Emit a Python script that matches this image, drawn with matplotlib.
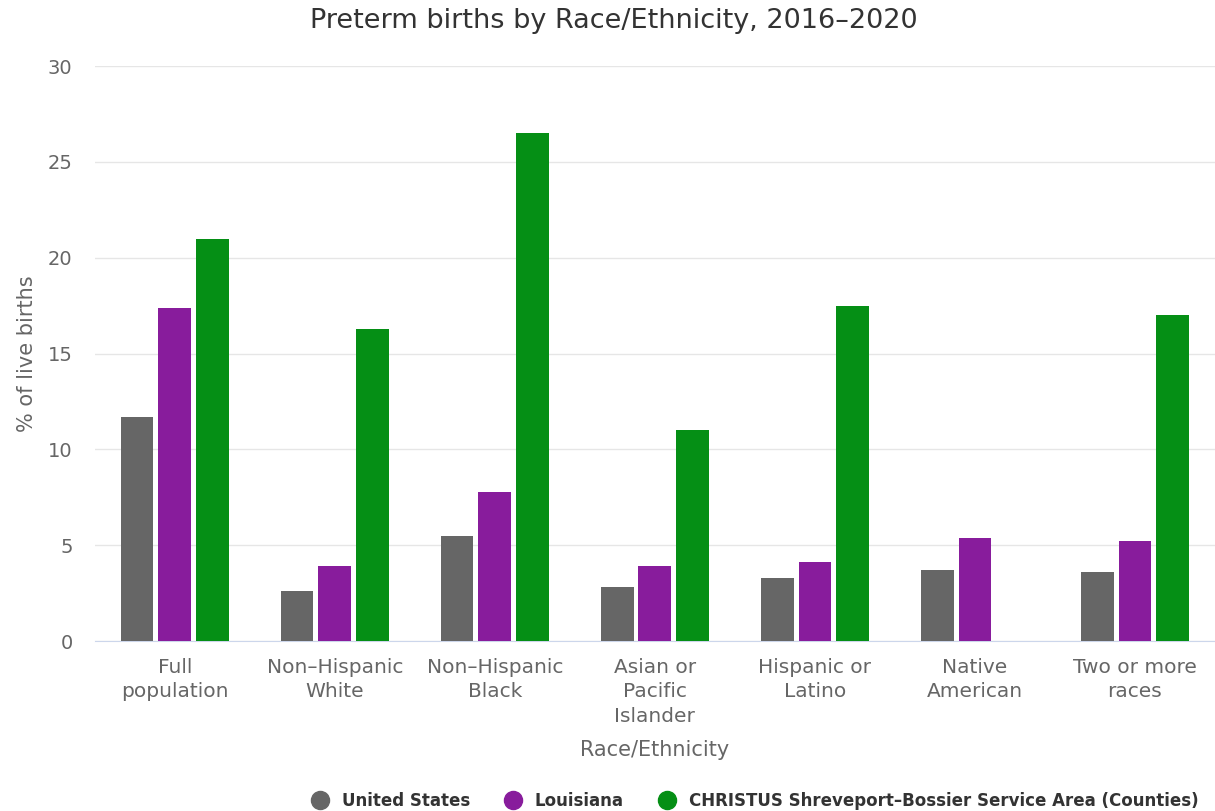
import matplotlib
matplotlib.use("Agg")
import matplotlib.pyplot as plt
from matplotlib.lines import Line2D
import numpy as np

categories = ["Full\npopulation", "Non\u2013Hispanic\nWhite", "Non\u2013Hispanic\nBlack",
              "Asian or\nPacific\nIslander", "Hispanic or\nLatino", "Native\nAmerican",
              "Two or more\nraces"]
series_names = ["United States", "Louisiana",
                "CHRISTUS Shreveport\u2013Bossier Service Area (Counties)"]
us_values = [11.7, 2.6, 5.5, 2.8, 3.3, 3.7, 3.6]
la_values = [17.4, 3.9, 7.8, 3.9, 4.1, 5.4, 5.2]
christus_values = [21.0, 16.3, 26.5, 11.0, 17.5, np.nan, 17.0]
colors = ["#666666", "#881c9c", "#058f15"]

plt.rcParams['font.family'] = ['DejaVu Sans']

fig = plt.figure(figsize=(12.15, 8.11), dpi=100)
ax = fig.add_axes([0.078, 0.2096, 0.922, 0.709])

x = np.arange(len(categories))
width = 0.205
step = 0.236
for i, (vals, col) in enumerate(zip([us_values, la_values, christus_values], colors)):
    ax.bar(x + (i - 1) * step, vals, width=width, color=col, zorder=3)

ax.set_xlim(-0.5, len(categories) - 0.5)
ax.set_ylim(0, 30)
ax.set_yticks([0, 5, 10, 15, 20, 25, 30])
ax.set_xticks(x)
ax.set_xticklabels(categories, fontsize=14.5, color="#666666", linespacing=1.38)
ax.tick_params(axis='y', labelsize=14, colors="#666666", length=0, pad=16)
ax.tick_params(axis='x', length=0, pad=12)
ax.grid(axis='y', color="#e6e6e6", linewidth=1, zorder=0)
for s in ["top", "right", "left"]:
    ax.spines[s].set_visible(False)
ax.spines["bottom"].set_color("#ccd6eb")

ax.set_ylabel("% of live births", fontsize=15, color="#666666", labelpad=8)
ax.set_xlabel("Race/Ethnicity", fontsize=15, color="#666666", labelpad=10)
fig.text(0.505, 0.974, "Preterm births by Race/Ethnicity, 2016\u20132020",
         ha="center", va="center", fontsize=19.5, color="#333333")

handles = [Line2D([0], [0], marker='o', linestyle='', markersize=13,
                  markerfacecolor=c, markeredgecolor=c) for c in colors]
fig.legend(handles, series_names, loc="center", bbox_to_anchor=(0.618, 0.012),
           ncol=3, frameon=False, handletextpad=0.3, columnspacing=1.6,
           prop={"size": 12, "weight": "bold"}, labelcolor="#333333")

fig.savefig("out.png", dpi=100)
